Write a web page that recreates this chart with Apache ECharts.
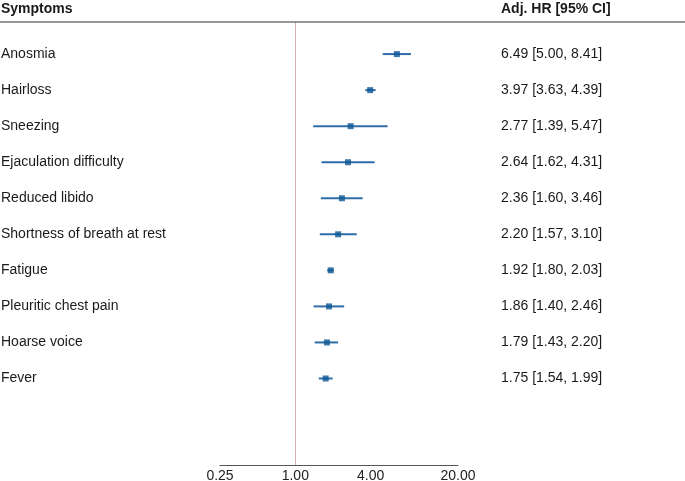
<!DOCTYPE html>
<html>
<head>
<meta charset="utf-8">
<script src="https://cdn.jsdelivr.net/npm/echarts@6/dist/echarts.min.js"></script>
<style>html,body{margin:0;padding:0;background:#fff}#c{width:685px;height:481px}</style>
</head>
<body>
<div id="c"></div>
<script>
const categories = ['Anosmia','Hairloss','Sneezing','Ejaculation difficulty','Reduced libido','Shortness of breath at rest','Fatigue','Pleuritic chest pain','Hoarse voice','Fever'];
const hr    = [6.49, 3.97, 2.77, 2.64, 2.36, 2.20, 1.92, 1.86, 1.79, 1.75];
const lower = [5.00, 3.63, 1.39, 1.62, 1.60, 1.57, 1.80, 1.40, 1.43, 1.54];
const upper = [8.41, 4.39, 5.47, 4.31, 3.46, 3.10, 2.03, 2.46, 2.20, 1.99];
const xTicks = [0.25, 1, 4, 20];

const FONT = "'Liberation Sans', Arial, Helvetica, sans-serif";
const rows = categories.map((c, i) => i + 1);
const fmt = v => v.toFixed(2);
const ciText = categories.map((c, i) => `${fmt(hr[i])} [${fmt(lower[i])}, ${fmt(upper[i])}]`);

const chart = echarts.init(document.getElementById('c'), null, {renderer: 'canvas'});
const yBase = {
  type: 'value', inverse: true, min: 0.11, max: 12.4,
  axisLine: {show: false}, axisTick: {show: false}, splitLine: {show: false}
};
chart.setOption({
  animation: false,
  backgroundColor: '#fff',
  grid: {left: 220, right: 227, top: 22, bottom: 16, containLabel: false, outerBoundsMode: 'none'},
  xAxis: {
    type: 'log', logBase: Math.E, min: 0.25, max: 20,
    axisLine: {show: true, lineStyle: {color: '#555', width: 1}},
    axisTick: {show: false},
    splitLine: {show: false},
    axisLabel: {
      customValues: xTicks, formatter: v => fmt(v), margin: 4,
      color: '#222', fontSize: 14, fontFamily: FONT
    }
  },
  yAxis: [
    Object.assign({}, yBase, {
      position: 'left',
      axisLabel: {
        customValues: rows, formatter: v => categories[Math.round(v) - 1],
        align: 'left', margin: 219, color: '#1a1a1a', fontSize: 14, fontFamily: FONT
      }
    }),
    Object.assign({}, yBase, {
      position: 'right',
      axisLabel: {
        customValues: rows, formatter: v => ciText[Math.round(v) - 1],
        align: 'left', margin: 43, color: '#1a1a1a', fontSize: 14, fontFamily: FONT
      }
    })
  ],
  graphic: [
    {type: 'line', shape: {x1: 0, y1: 22, x2: 685, y2: 22}, style: {stroke: '#333', lineWidth: 1.2}, z: 10},
    {type: 'text', left: 1, top: 2, style: {text: 'Symptoms', font: `bold 14px ${FONT}`, fill: '#1a1a1a'}},
    {type: 'text', left: 501, top: 2, style: {text: 'Adj. HR [95% CI]', font: `bold 14px ${FONT}`, fill: '#1a1a1a'}}
  ],
  series: [
    {
      type: 'custom',
      renderItem: (params, api) => {
        const y = api.value(2);
        const p1 = api.coord([api.value(0), y]);
        const p2 = api.coord([api.value(1), y]);
        return {type: 'line', shape: {x1: p1[0], y1: p1[1], x2: p2[0], y2: p2[1]},
                style: {stroke: '#2f6ea6', lineWidth: 2}};
      },
      encode: {x: [0, 1], y: 2},
      data: categories.map((c, i) => [lower[i], upper[i], i + 1]),
      z: 3,
      markLine: {
        silent: true, symbol: 'none', label: {show: false},
        lineStyle: {color: '#d6b0b0', type: 'solid', width: 1},
        data: [{xAxis: 1}]
      }
    },
    {
      type: 'scatter', symbol: 'rect', symbolSize: 6,
      itemStyle: {color: '#0b5595'},
      data: categories.map((c, i) => [hr[i], i + 1]),
      z: 4
    }
  ]
});
</script>
</body>
</html>
